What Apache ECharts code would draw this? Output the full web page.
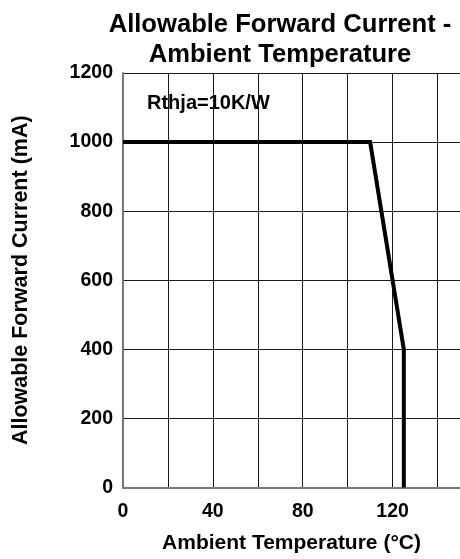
<!DOCTYPE html>
<html>
<head>
<meta charset="utf-8">
<script src="https://cdn.jsdelivr.net/npm/echarts@6/dist/echarts.min.js"></script>
<style>html,body{margin:0;padding:0;background:#fff}#c{width:460px;height:559px}</style>
</head>
<body>
<div id="c"></div>
<script>
var temps = [0, 110, 125, 125];
var currents = [1000, 1000, 400, 0];
var xTicks = [0, 40, 80, 120];
var yTicks = [0, 200, 400, 600, 800, 1000, 1200];
var titleLines = ['Allowable Forward Current -', 'Ambient Temperature'];
var note = 'Rthja=10K/W';

var FONT = '"Liberation Sans", Arial, sans-serif';
var chart = echarts.init(document.getElementById('c'), null, {renderer: 'canvas'});
chart.setOption({
  animation: false,
  backgroundColor: '#fff',
  title: {
    text: titleLines.join('\n'),
    left: 275, top: 5, textAlign: 'center',
    textStyle: {fontFamily: FONT, fontWeight: 'bold', fontSize: 25.6, color: '#000', lineHeight: 30}
  },
  graphic: [{
    type: 'text', left: 147, top: 93,
    style: {text: note, font: 'bold 20px ' + FONT, fill: '#000'}
  }],
  grid: {left: 123, top: 73, width: 340, height: 415, containLabel: false},
  xAxis: {
    type: 'value', min: 0, max: 150, interval: 20,
    name: 'Ambient Temperature (°C)', nameLocation: 'middle', nameGap: 45.5,
    nameTextStyle: {fontFamily: FONT, fontWeight: 'bold', fontSize: 21, color: '#000'},
    axisLine: {show: true, onZero: false, lineStyle: {color: '#777', width: 2}},
    axisTick: {show: false},
    splitLine: {show: true, lineStyle: {color: '#1a1a1a', width: 1}},
    axisLabel: {
      margin: 14, fontFamily: FONT, fontWeight: 'bold', fontSize: 19.5, color: '#000',
      showMaxLabel: false,
      formatter: function (v) { return xTicks.indexOf(v) >= 0 ? String(v) : ''; }
    }
  },
  yAxis: {
    type: 'value', min: 0, max: 1200, interval: 200,
    name: 'Allowable Forward Current (mA)', nameLocation: 'middle', nameGap: 90.5,
    nameTextStyle: {fontFamily: FONT, fontWeight: 'bold', fontSize: 21.5, color: '#000'},
    axisLine: {show: true, lineStyle: {color: '#777', width: 2}},
    axisTick: {show: false},
    splitLine: {show: true, lineStyle: {color: '#1a1a1a', width: 1}},
    axisLabel: {
      margin: 10, fontFamily: FONT, fontWeight: 'bold', fontSize: 19.5, color: '#000',
      formatter: function (v) { return yTicks.indexOf(v) >= 0 ? String(v) : ''; }
    }
  },
  series: [{
    type: 'line',
    data: temps.map(function (t, i) { return [t, currents[i]]; }),
    showSymbol: false, symbol: 'none',
    lineStyle: {color: '#000', width: 4, join: 'miter'},
    clip: false
  }]
});
</script>
</body>
</html>
